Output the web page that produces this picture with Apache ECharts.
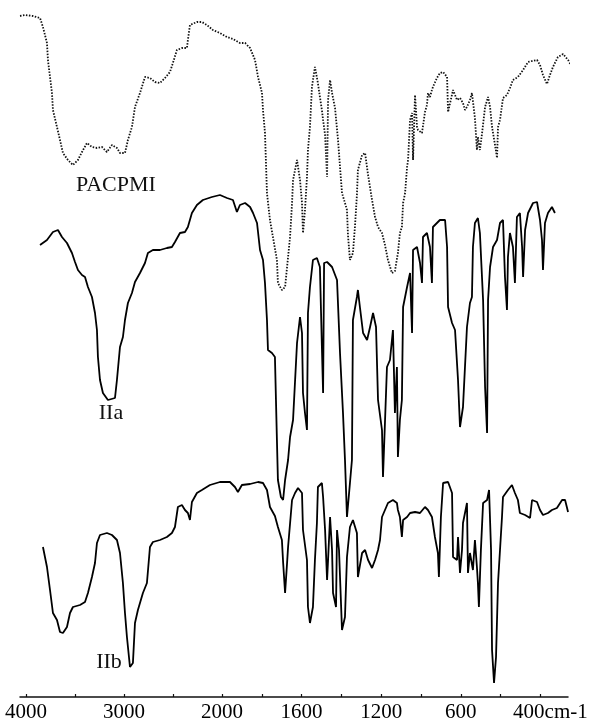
<!DOCTYPE html>
<html>
<head>
<meta charset="utf-8">
<script src="https://cdn.jsdelivr.net/npm/echarts@6/dist/echarts.min.js"></script>
<style>
  html, body { margin: 0; padding: 0; background: #fff; }
  #chart { width: 599px; height: 723px; }
</style>
</head>
<body>
<div id="chart"></div>
<script>
// IR spectra, [wavenumber (cm-1), relative transmittance], traces offset vertically
const pacpmi = [
  [4061,681],[4010,682],[3929,681],[3857,679],[3827,670],[3786,654],[3776,637],[3755,620],[3735,604],[3725,587],[3684,570],[3653,557],[3623,544],[3572,537],[3521,532],[3470,537],[3429,545],[3378,554],[3327,550],[3276,549],[3225,550],[3174,545],[3123,552],[3072,549],[3041,544],[2990,544],[2960,557],[2919,570],[2888,590],[2837,604],[2786,620],[2735,619],[2684,615],[2633,614],[2582,619],[2531,625],[2501,634],[2460,647],[2409,649],[2358,649],[2348,657],[2327,672],[2256,675],[2205,675],[2154,672],[2093,667],[2021,664],[1975,660],[1945,658],[1910,654],[1884,654],[1859,649],[1834,637],[1819,620],[1799,604],[1794,587],[1784,564],[1774,504],[1759,477],[1744,460],[1724,437],[1719,414],[1699,407],[1683,410],[1673,430],[1658,460],[1648,494],[1643,517],[1623,537],[1608,517],[1598,494],[1593,464],[1583,487],[1573,520],[1568,547],[1558,570],[1548,610],[1533,630],[1518,614],[1508,600],[1498,587],[1492,577],[1482,562],[1472,520],[1467,597],[1457,617],[1447,604],[1432,589],[1417,557],[1407,530],[1397,504],[1382,494],[1372,487],[1367,462],[1357,437],[1342,444],[1332,470],[1322,502],[1317,527],[1296,542],[1281,544],[1266,522],[1246,497],[1231,480],[1216,470],[1196,464],[1181,452],[1166,437],[1146,424],[1131,426],[1116,444],[1106,464],[1096,470],[1090,494],[1080,504],[1070,530],[1065,537],[1055,577],[1045,584],[1040,537],[1030,602],[1020,570],[1015,567],[1005,567],[995,564],[980,585],[970,592],[965,604],[955,600],[945,607],[940,610],[920,619],[905,624],[889,625],[879,623],[869,620],[864,585],[854,584],[839,607],[819,597],[804,599],[789,594],[779,587],[769,590],[754,597],[744,604],[729,579],[719,547],[714,560],[704,547],[693,564],[678,590],[663,600],[653,590],[643,570],[628,552],[618,539],[613,570],[603,577],[588,599],[568,602],[553,609],[538,617],[513,620],[487,627],[462,635],[442,636],[417,637],[402,632],[387,622],[367,613],[352,622],[337,630],[312,640],[286,643],[261,637],[241,630],[226,620],[216,609]
];

const iia = [
  [3857,452],[3786,457],[3725,465],[3674,467],[3633,460],[3582,454],[3531,444],[3500,435],[3470,427],[3429,422],[3398,420],[3368,410],[3327,400],[3296,384],[3276,367],[3266,340],[3245,317],[3215,304],[3164,297],[3092,299],[3072,317],[3041,350],[3011,360],[2990,377],[2960,394],[2919,404],[2888,415],[2837,424],[2786,434],[2756,444],[2705,447],[2633,447],[2562,449],[2511,450],[2480,455],[2429,464],[2378,465],[2348,470],[2307,484],[2256,492],[2195,497],[2103,500],[2021,502],[1975,499],[1945,497],[1925,485],[1910,492],[1884,494],[1859,490],[1844,484],[1824,474],[1809,447],[1794,437],[1784,414],[1774,377],[1769,347],[1749,344],[1734,340],[1724,257],[1719,217],[1704,200],[1693,197],[1683,217],[1668,237],[1658,260],[1643,277],[1623,354],[1608,380],[1598,364],[1593,304],[1583,284],[1573,267],[1568,384],[1558,410],[1543,437],[1523,439],[1508,430],[1498,350],[1492,304],[1487,434],[1472,435],[1447,430],[1422,417],[1407,344],[1392,284],[1382,237],[1372,180],[1357,214],[1347,237],[1342,377],[1322,400],[1317,407],[1307,390],[1291,364],[1271,357],[1256,370],[1241,384],[1226,370],[1216,297],[1196,267],[1191,220],[1171,330],[1156,337],[1141,367],[1131,284],[1121,330],[1116,240],[1106,277],[1096,297],[1090,390],[1070,410],[1055,424],[1045,364],[1040,447],[1020,450],[1005,434],[995,414],[990,460],[970,464],[955,450],[945,414],[940,470],[905,477],[879,477],[869,450],[864,390],[844,374],[829,367],[814,317],[804,270],[789,290],[769,370],[754,394],[744,400],[739,450],[729,474],[714,479],[704,464],[688,397],[678,310],[668,264],[663,397],[653,430],[638,450],[618,457],[603,474],[588,477],[578,420],[568,387],[563,440],[553,464],[538,450],[528,414],[518,480],[503,484],[492,450],[487,420],[477,467],[462,484],[437,494],[417,495],[402,477],[392,457],[387,427],[377,474],[362,484],[342,490],[327,484]
];

const iib = [
  [3827,150],[3786,130],[3755,107],[3725,84],[3684,77],[3653,65],[3623,64],[3582,70],[3551,84],[3521,90],[3449,92],[3398,95],[3368,104],[3327,120],[3296,134],[3276,154],[3245,162],[3174,164],[3123,162],[3072,157],[3041,144],[3011,114],[2990,84],[2970,60],[2939,30],[2909,34],[2888,74],[2858,87],[2807,104],[2766,114],[2735,150],[2705,155],[2633,157],[2562,160],[2511,164],[2480,170],[2450,190],[2409,192],[2378,187],[2348,184],[2327,177],[2307,195],[2256,204],[2205,207],[2123,212],[2021,215],[1960,215],[1935,210],[1920,205],[1900,212],[1859,213],[1819,215],[1794,214],[1774,207],[1759,190],[1734,181],[1719,170],[1699,157],[1693,135],[1683,104],[1673,134],[1668,150],[1648,197],[1633,204],[1618,209],[1598,204],[1593,167],[1573,137],[1568,90],[1558,74],[1543,90],[1533,137],[1523,174],[1518,210],[1498,214],[1492,200],[1482,167],[1472,117],[1467,137],[1457,180],[1447,147],[1442,104],[1427,90],[1422,167],[1412,147],[1397,67],[1382,80],[1372,140],[1357,170],[1342,177],[1322,164],[1317,120],[1296,144],[1281,147],[1266,137],[1246,129],[1231,137],[1216,147],[1206,157],[1196,180],[1181,187],[1166,194],[1141,197],[1121,194],[1116,187],[1106,180],[1096,160],[1090,177],[1070,180],[1055,184],[1030,185],[1005,184],[980,190],[965,187],[945,180],[930,160],[915,144],[910,120],[900,180],[889,214],[864,215],[844,204],[839,140],[819,137],[814,160],[804,124],[794,147],[789,174],[769,194],[764,124],[754,144],[739,127],[729,157],[719,130],[714,114],[709,90],[699,147],[688,194],[668,197],[658,207],[648,147],[643,47],[633,14],[623,40],[613,114],[603,147],[593,180],[588,200],[563,207],[543,212],[528,204],[513,197],[503,184],[477,182],[452,179],[442,197],[417,195],[402,187],[387,182],[362,184],[342,187],[317,189],[291,197],[276,197],[261,185]
];

// axis ticks and labels (cm-1)
const tickWavenumbers = [4000,3500,3000,2500,2000,1800,1600,1400,1200,1000,800,600,400];
const labelWavenumbers = [4000,3000,2000,1600,1200,800,400];
const labelTexts = ['4000','3000','2000','1600','1200','600','400'];

// trace names and where each name sits [wavenumber, transmittance]
const traceNames = ['PACPMI','IIa','IIb'];
const traceNameAt = [[3082,512],[3133,284],[3153,35]];

// the wavenumber scale is compressed above 2000 cm-1 (half the spread below it)
function toAxis(w) {
  return w >= 2000 ? (4000 - w) * 0.098 : 196 + (2000 - w) * 0.199;
}

const serif = '"Liberation Serif", "DejaVu Serif", serif';

function traceSeries(name, data, dotted, idx) {
  return {
    name: name,
    type: 'line',
    data: data.map(p => [toAxis(p[0]), p[1]]),
    showSymbol: false,
    symbol: 'none',
    smooth: false,
    animation: false,
    silent: true,
    lineStyle: dotted
      ? { color: '#111', width: 1.8, type: [1.5, 1.5] }
      : { color: '#000', width: 1.8 },
    markPoint: {
      symbol: 'circle',
      symbolSize: 0,
      silent: true,
      animation: false,
      label: {
        show: true,
        position: 'inside',
        formatter: name,
        color: '#111',
        fontFamily: serif,
        fontSize: 22
      },
      data: [{ coord: [toAxis(traceNameAt[idx][0]), traceNameAt[idx][1]] }]
    }
  };
}

const chart = echarts.init(document.getElementById('chart'), null, { renderer: 'canvas' });

chart.setOption({
  backgroundColor: '#ffffff',
  animation: false,
  grid: { left: 20, right: 31, top: 0, bottom: 26, containLabel: false },
  xAxis: {
    type: 'value',
    min: -6,
    max: 542,
    splitLine: { show: false },
    axisLine: { show: true, onZero: false, lineStyle: { color: '#111', width: 1.5 } },
    axisTick: {
      show: true,
      inside: true,
      length: 3,
      customValues: tickWavenumbers.map(toAxis),
      lineStyle: { color: '#111', width: 1.2 }
    },
    axisLabel: {
      show: true,
      customValues: labelWavenumbers.map(toAxis),
      margin: 5,
      color: '#000',
      fontFamily: serif,
      fontSize: 21,
      formatter: function (val) {
        let i = labelWavenumbers.findIndex(w => Math.abs(toAxis(w) - val) < 0.01);
        if (i < 0) return '';
        if (i === labelWavenumbers.length - 1) return '{pad|}' + labelTexts[i] + 'cm-1';
        return labelTexts[i];
      },
      rich: {
        pad: { width: 20 }
      }
    }
  },
  yAxis: {
    type: 'value',
    min: 0,
    max: 697,
    show: false
  },
  series: [
    traceSeries(traceNames[0], pacpmi, true, 0),
    traceSeries(traceNames[1], iia, false, 1),
    traceSeries(traceNames[2], iib, false, 2)
  ]
});
</script>
</body>
</html>
